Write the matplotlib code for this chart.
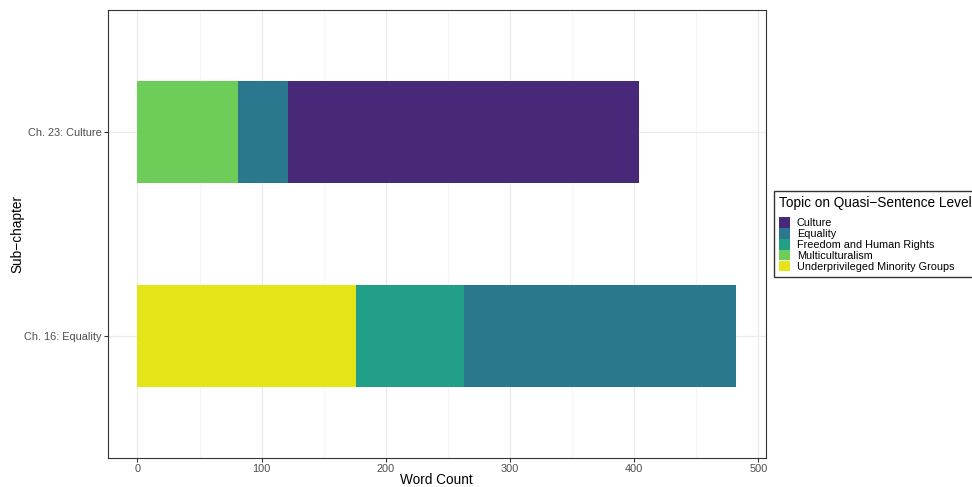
import matplotlib
matplotlib.use("Agg")
import matplotlib.pyplot as plt
from matplotlib.patches import Patch
from matplotlib.ticker import MultipleLocator

plt.rcParams['font.family'] = ['Liberation Sans', 'DejaVu Sans']

# ---------- Data ----------
chapters = ["Ch. 16: Equality", "Ch. 23: Culture"]
topics = ["Culture", "Equality", "Freedom and Human Rights",
          "Multiculturalism", "Underprivileged Minority Groups"]
colors = ["#482878", "#2A788E", "#21A087", "#6CCE59", "#E5E419"]

# word counts per topic, one value per chapter (Equality, Culture)
counts = {
    "Culture": [0, 283],
    "Equality": [219, 40],
    "Freedom and Human Rights": [87, 0],
    "Multiculturalism": [0, 81],
    "Underprivileged Minority Groups": [176, 0],
}

fig = plt.figure(figsize=(9.72, 4.87), dpi=100)
ax = fig.add_axes([107.5 / 972, 29 / 487, 658.5 / 972, 448 / 487])

# stack from the last topic (left) to the first (right), like ggplot
y = list(range(1, len(chapters) + 1))
left = [0] * len(chapters)
for topic, col in reversed(list(zip(topics, colors))):
    vals = counts[topic]
    ax.barh(y, vals, left=left, height=0.5, color=col, zorder=3)
    left = [l + v for l, v in zip(left, vals)]

ax.set_xlim(-24.1, 506.1)
ax.set_ylim(0.4, 2.6)
ax.set_yticks(y)
ax.set_yticklabels(chapters)
ax.xaxis.set_major_locator(MultipleLocator(100))
ax.xaxis.set_minor_locator(MultipleLocator(50))

ax.grid(True, which="major", color="#EBEBEB", lw=0.9, zorder=0)
ax.grid(True, which="minor", axis="x", color="#F2F2F2", lw=0.5, zorder=0)
for s in ax.spines.values():
    s.set_color("#333333")
    s.set_linewidth(0.8)
ax.tick_params(axis="both", which="major", length=3, width=0.8, color="#333333",
               labelcolor="#4D4D4D", labelsize=7.9, pad=1.2)
ax.tick_params(axis="both", which="minor", length=0)

ax.set_xlabel("Word Count", fontsize=9.8, color="black", va="center")
ax.xaxis.set_label_coords(0.5, (458 - 479.5) / 448)
ax.set_ylabel("Sub\u2212chapter", fontsize=9.8, color="black", va="center")
ax.yaxis.set_label_coords((17 - 107.5) / 658.5, 0.5)

handles = [Patch(facecolor=c, edgecolor="none", label=t) for t, c in zip(topics, colors)]
leg = fig.legend(handles=handles, title="Topic on Quasi\u2212Sentence Level",
                 loc="upper left", bbox_to_anchor=(773.5 / 972, 1 - 191 / 487),
                 fontsize=7.8, title_fontsize=9.8, frameon=True, fancybox=False,
                 edgecolor="black", handlelength=1.0, handleheight=1.1,
                 labelspacing=0.0, handletextpad=0.65, borderpad=0.5,
                 borderaxespad=0)
leg._legend_box.align = "left"
leg._legend_box.sep = 5
leg.get_frame().set_linewidth(1.0)

fig.savefig("out.png", dpi=100)
